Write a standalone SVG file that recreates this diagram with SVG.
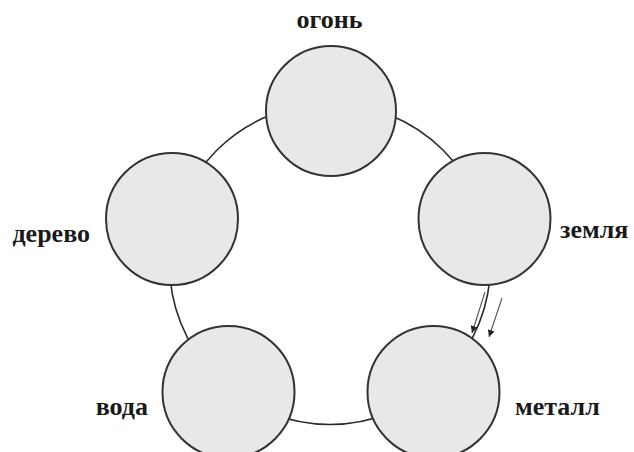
<svg xmlns="http://www.w3.org/2000/svg" width="634" height="452" viewBox="0 0 634 452">
  <style>
    .node { fill: #e8e8e8; stroke: #333; stroke-width: 2; }
    .ring { fill: none; stroke: #2a2a2a; stroke-width: 1.6; }
    .flow { stroke: #555; stroke-width: 1.1; fill: none; marker-end: url(#head); }
    .label { font-family: "Liberation Serif", "Times New Roman", serif; font-size: 26px; font-weight: bold; fill: #1a1a1a; }
  </style>
  <defs>
    <marker id="head" markerWidth="9" markerHeight="9" refX="7" refY="3.5" orient="auto" markerUnits="userSpaceOnUse">
      <path d="M0,0 L7,3.5 L0,7 z" fill="#222"/>
    </marker>
  </defs>
  <rect width="634" height="452" fill="#fff"/>

  <g id="connectors">
    <circle class="ring" cx="330" cy="264" r="160.5"/>
    <line class="flow" x1="485" y1="292" x2="472" y2="333"/>
    <line class="flow" x1="502" y1="298" x2="489" y2="337"/>
  </g>

  <g id="fire">
    <circle class="node" cx="331" cy="111" r="65"/>
    <text class="label" x="329.5" y="28" text-anchor="middle">огонь</text>
  </g>
  <g id="earth">
    <circle class="node" cx="484.5" cy="219" r="66"/>
    <text class="label" x="560" y="238">земля</text>
  </g>
  <g id="metal">
    <circle class="node" cx="433.5" cy="392" r="66"/>
    <text class="label" x="515" y="415">металл</text>
  </g>
  <g id="water">
    <circle class="node" cx="228.5" cy="392" r="66"/>
    <text class="label" x="148" y="415" text-anchor="end">вода</text>
  </g>
  <g id="wood">
    <circle class="node" cx="172" cy="219" r="66"/>
    <text class="label" x="90" y="242" text-anchor="end">дерево</text>
  </g>
</svg>
